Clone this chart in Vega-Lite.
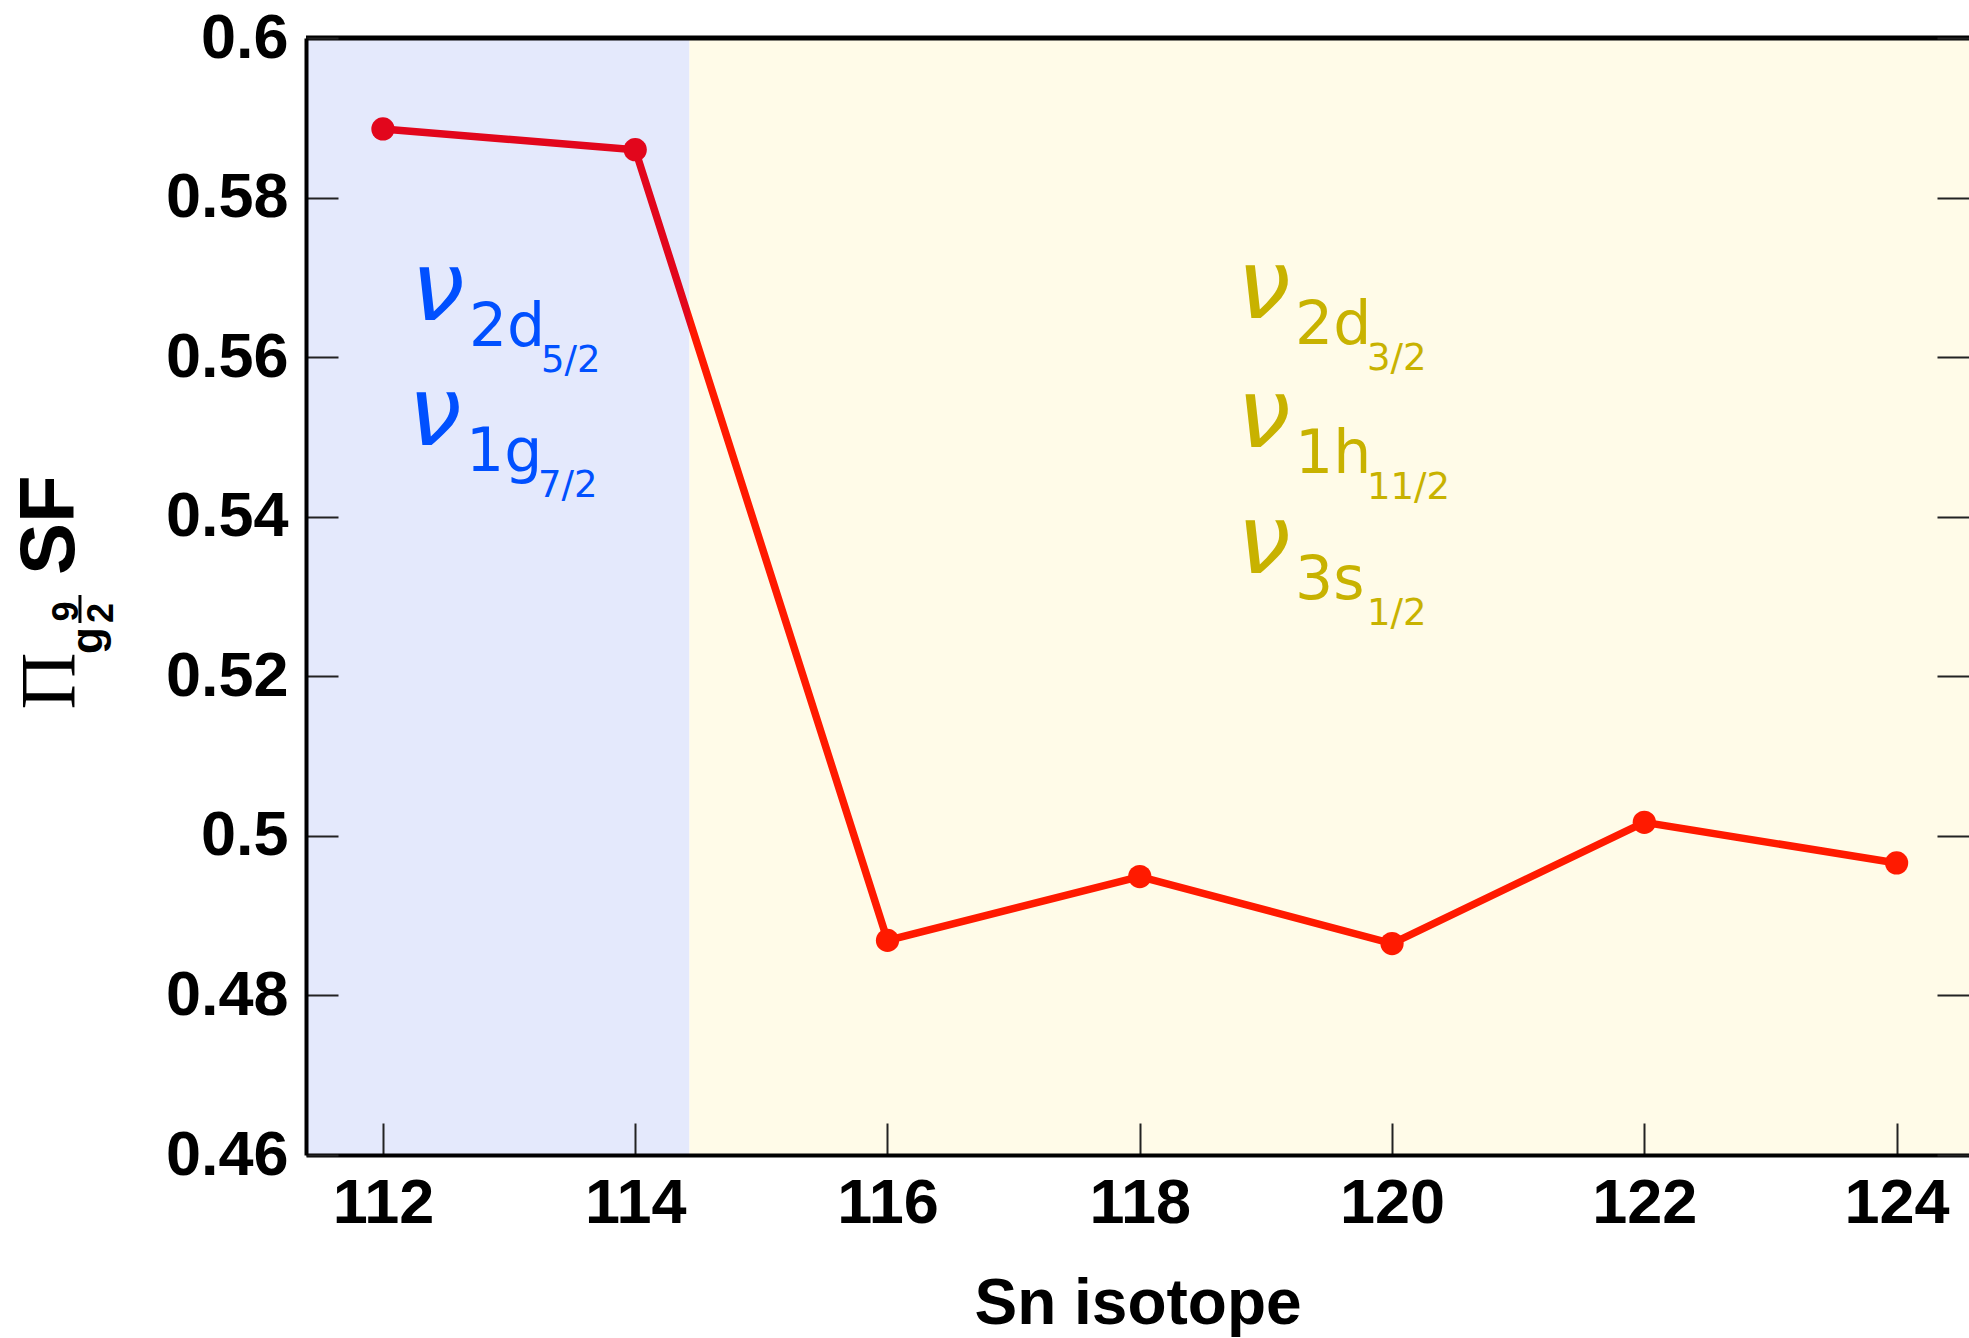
{
  "$schema": "https://vega.github.io/schema/vega-lite/v6.json",
  "width": 1663,
  "height": 1117,
  "autosize": {"type": "none"},
  "padding": {"left": 306, "top": 38, "right": 0, "bottom": 183},
  "background": "white",
  "config": {
    "view": {"stroke": null},
    "font": "Liberation Sans",
    "axis": {
      "grid": false,
      "labelFont": "Liberation Sans", "labelFontWeight": "bold", "labelFontSize": 63, "labelColor": "black",
      "labelFlush": false, "labelOverlap": false,
      "tickSize": -32, "tickColor": "#222222", "tickWidth": 2,
      "domainColor": "black", "domainWidth": 4
    }
  },
  "resolve": {"axis": {"y": "independent"}},
  "datasets": {
    "sf": [
      {"iso": 112, "val": 0.5886},
      {"iso": 114, "val": 0.586},
      {"iso": 116, "val": 0.4869},
      {"iso": 118, "val": 0.4949},
      {"iso": 120, "val": 0.4865},
      {"iso": 122, "val": 0.5017},
      {"iso": 124, "val": 0.4966}
    ],
    "zones": [
      {"zone": "low", "start": 111.39, "end": 114.43},
      {"zone": "high", "start": 114.43, "end": 124.574}
    ],
    "shells": [
      {"shell": "low", "orbital": "2d", "j": "5/2", "iso": 112.222, "val": 0.56466},
      {"shell": "low", "orbital": "1g", "j": "7/2", "iso": 112.199, "val": 0.54899},
      {"shell": "high", "orbital": "2d", "j": "3/2", "iso": 118.771, "val": 0.56491},
      {"shell": "high", "orbital": "1h", "j": "11/2", "iso": 118.771, "val": 0.54874},
      {"shell": "high", "orbital": "3s", "j": "1/2", "iso": 118.771, "val": 0.53295}
    ],
    "ytitle": [
      {"part": "Pi", "text": "Π", "iso": 109.551, "val": 0.51583},
      {"part": "g", "text": "g", "iso": 109.773, "val": 0.5228},
      {"part": "frac", "text": "9", "iso": 109.582, "val": 0.52687},
      {"part": "frac", "text": "2", "iso": 109.86, "val": 0.52668},
      {"part": "SF", "text": "SF", "iso": 109.551, "val": 0.5327}
    ],
    "bar": [
      {"iso": 109.598, "top": 0.53019, "bottom": 0.52668}
    ],
    "frame": [
      {"val": 0.6}
    ]
  },
  "layer": [
    {
      "data": {"name": "zones"},
      "mark": {"type": "rect"},
      "encoding": {
        "x": {"field": "start", "type": "quantitative", "scale": {"domain": [111.39, 124.574], "nice": false, "zero": false},
          "axis": {
            "orient": "bottom", "zindex": 1, "values": [112, 114, 116, 118, 120, 122, 124], "format": "d", "labelPadding": 49,
            "title": "Sn isotope", "titleFont": "Liberation Sans", "titleFontWeight": "bold", "titleFontSize": 64,
            "titleColor": "black", "titleBaseline": "alphabetic", "titleY": 168
          }
        },
        "x2": {"field": "end"},
        "fill": {"field": "zone", "type": "nominal", "scale": {"domain": ["low", "high"], "range": ["#e4e9fc", "#fffbe8"]}, "legend": null}
      }
    },
    {
      "data": {"name": "sf"},
      "mark": {
        "type": "line",
        "strokeWidth": 7.5,
        "stroke": {
          "gradient": "linear", "x1": 0, "y1": 0, "x2": 1, "y2": 0,
          "stops": [
            {"offset": 0, "color": "#e2061c"},
            {"offset": 0.2025, "color": "#e2061c"},
            {"offset": 0.2026, "color": "#ff1a00"},
            {"offset": 1, "color": "#ff1a00"}
          ]
        }
      },
      "encoding": {
        "x": {"field": "iso", "type": "quantitative", "scale": {"domain": [111.39, 124.574], "nice": false, "zero": false}},
        "y": {"field": "val", "type": "quantitative", "scale": {"domain": [0.46, 0.6], "nice": false, "zero": false},
          "axis": {
            "orient": "left", "zindex": 1, "values": [0.46, 0.48, 0.5, 0.52, 0.54, 0.56, 0.58, 0.6], "format": ".2~f",
            "labelPadding": 50, "title": null
          }
        }
      }
    },
    {
      "data": {"name": "sf"},
      "mark": {"type": "circle", "size": 540, "opacity": 1},
      "encoding": {
        "x": {"field": "iso", "type": "quantitative", "scale": {"domain": [111.39, 124.574], "nice": false, "zero": false}},
        "y": {"field": "val", "type": "quantitative", "scale": {"domain": [0.46, 0.6], "nice": false, "zero": false},
          "axis": {
            "orient": "right", "zindex": 1, "values": [0.46, 0.48, 0.5, 0.52, 0.54, 0.56, 0.58, 0.6], "labels": false, "domain": false, "title": null
          }
        },
        "color": {"condition": {"test": "datum.iso < 114.43", "value": "#e2061c"}, "value": "#ff1a00"}
      }
    },
    {
      "data": {"name": "frame"},
      "mark": {"type": "rule", "strokeWidth": 5, "color": "black"},
      "encoding": {
        "y": {"field": "val", "type": "quantitative", "scale": {"domain": [0.46, 0.6], "nice": false, "zero": false}, "axis": null}
      }
    },
    {
      "data": {"name": "shells"},
      "mark": {"type": "text", "text": "ν", "font": "DejaVu Sans", "fontStyle": "italic", "fontSize": 96, "align": "left", "baseline": "alphabetic"},
      "encoding": {
        "x": {"field": "iso", "type": "quantitative", "scale": {"domain": [111.39, 124.574], "nice": false, "zero": false}},
        "y": {"field": "val", "type": "quantitative", "scale": {"domain": [0.46, 0.6], "nice": false, "zero": false}, "axis": null},
        "color": {"field": "shell", "type": "nominal", "scale": {"domain": ["low", "high"], "range": ["#0050ff", "#c8b200"]}, "legend": null}
      }
    },
    {
      "data": {"name": "shells"},
      "mark": {"type": "text", "font": "DejaVu Sans", "fontSize": 60, "align": "left", "baseline": "alphabetic", "dx": 58, "dy": 26},
      "encoding": {
        "x": {"field": "iso", "type": "quantitative", "scale": {"domain": [111.39, 124.574], "nice": false, "zero": false}},
        "y": {"field": "val", "type": "quantitative", "scale": {"domain": [0.46, 0.6], "nice": false, "zero": false}, "axis": null},
        "text": {"field": "orbital"},
        "color": {"field": "shell", "type": "nominal", "legend": null}
      }
    },
    {
      "data": {"name": "shells"},
      "mark": {"type": "text", "font": "DejaVu Sans", "fontSize": 37, "align": "left", "baseline": "alphabetic", "dx": 130, "dy": 52},
      "encoding": {
        "x": {"field": "iso", "type": "quantitative", "scale": {"domain": [111.39, 124.574], "nice": false, "zero": false}},
        "y": {"field": "val", "type": "quantitative", "scale": {"domain": [0.46, 0.6], "nice": false, "zero": false}, "axis": null},
        "text": {"field": "j"},
        "color": {"field": "shell", "type": "nominal", "legend": null}
      }
    },
    {
      "data": {"name": "ytitle"},
      "transform": [{"filter": "datum.part === 'Pi'"}],
      "mark": {"type": "text", "font": "Liberation Serif", "fontSize": 79, "angle": 270, "align": "left", "baseline": "alphabetic", "color": "black"},
      "encoding": {
        "x": {"field": "iso", "type": "quantitative", "scale": {"domain": [111.39, 124.574], "nice": false, "zero": false}},
        "y": {"field": "val", "type": "quantitative", "scale": {"domain": [0.46, 0.6], "nice": false, "zero": false}, "axis": null},
        "text": {"field": "text"}
      }
    },
    {
      "data": {"name": "ytitle"},
      "transform": [{"filter": "datum.part === 'g'"}],
      "mark": {"type": "text", "font": "Liberation Sans", "fontWeight": "bold", "fontSize": 44, "angle": 270, "align": "left", "baseline": "alphabetic", "color": "black"},
      "encoding": {
        "x": {"field": "iso", "type": "quantitative", "scale": {"domain": [111.39, 124.574], "nice": false, "zero": false}},
        "y": {"field": "val", "type": "quantitative", "scale": {"domain": [0.46, 0.6], "nice": false, "zero": false}, "axis": null},
        "text": {"field": "text"}
      }
    },
    {
      "data": {"name": "ytitle"},
      "transform": [{"filter": "datum.part === 'frac'"}],
      "mark": {"type": "text", "font": "Liberation Sans", "fontWeight": "bold", "fontSize": 36, "angle": 270, "align": "left", "baseline": "alphabetic", "color": "black"},
      "encoding": {
        "x": {"field": "iso", "type": "quantitative", "scale": {"domain": [111.39, 124.574], "nice": false, "zero": false}},
        "y": {"field": "val", "type": "quantitative", "scale": {"domain": [0.46, 0.6], "nice": false, "zero": false}, "axis": null},
        "text": {"field": "text"}
      }
    },
    {
      "data": {"name": "bar"},
      "mark": {"type": "rule", "strokeWidth": 3, "color": "black"},
      "encoding": {
        "x": {"field": "iso", "type": "quantitative", "scale": {"domain": [111.39, 124.574], "nice": false, "zero": false}},
        "y": {"field": "top", "type": "quantitative", "scale": {"domain": [0.46, 0.6], "nice": false, "zero": false}, "axis": null},
        "y2": {"field": "bottom"}
      }
    },
    {
      "data": {"name": "ytitle"},
      "transform": [{"filter": "datum.part === 'SF'"}],
      "mark": {"type": "text", "font": "Liberation Sans", "fontWeight": "bold", "fontSize": 78, "angle": 270, "align": "left", "baseline": "alphabetic", "color": "black"},
      "encoding": {
        "x": {"field": "iso", "type": "quantitative", "scale": {"domain": [111.39, 124.574], "nice": false, "zero": false}},
        "y": {"field": "val", "type": "quantitative", "scale": {"domain": [0.46, 0.6], "nice": false, "zero": false}, "axis": null},
        "text": {"field": "text"}
      }
    }
  ]
}
